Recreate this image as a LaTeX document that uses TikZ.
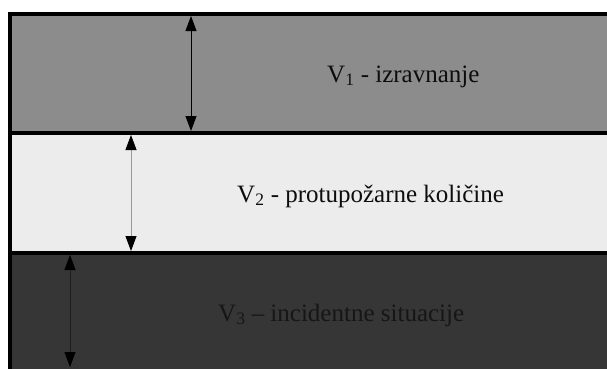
\documentclass[tikz,border=0pt]{standalone}
\usepackage{fontspec}
\setmainfont{Liberation Serif}
\usetikzlibrary{arrows.meta}
\definecolor{bandA}{HTML}{8C8C8C}
\definecolor{bandB}{HTML}{ECECEC}
\definecolor{bandC}{HTML}{363636}
\definecolor{txtC}{HTML}{161616}
\tikzset{
  band/.style={draw=black, line width=4pt},
  dim/.style={line width=0.8pt, {Triangle[length=15pt,width=11pt,color=black]}-{Triangle[length=15pt,width=11pt,color=black]}},
  lbl/.style={anchor=base west, inner sep=0pt, font=\fontsize{25}{28}\selectfont}
}
\begin{document}
\begin{tikzpicture}[x=1pt,y=-1pt]
\useasboundingbox (0,0) rectangle (607,368);
\clip (0,0) rectangle (607,368);
\fill[white] (0,0) rectangle (607,368);
% bands
\draw[band, fill=bandC] (10,253) rectangle (640,420);
\draw[band, fill=bandB] (10,133) rectangle (640,253);
\draw[band, fill=bandA] (10,14) rectangle (640,133);
% arrow end points
\coordinate (a1t) at (191,16);
\coordinate (a1b) at (191,131);
\coordinate (a2t) at (131,135);
\coordinate (a2b) at (131,251);
\coordinate (a3t) at (70,255);
\coordinate (a3b) at (70,367);
\draw[dim, draw=black] (a1t) -- (a1b);
\draw[dim, draw=black!40] (a2t) -- (a2b);
\draw[dim, draw=black!88] (a3t) -- (a3b);
% labels
\node[lbl, text=black!95] (t1) at (327,82) {V\textsubscript{1} - izravnanje};
\node[lbl, text=black!95] (t2) at (237,202) {V\textsubscript{2} - protupožarne količine};
\node[lbl, text=txtC] (t3) at (218,321) {V\textsubscript{3} – incidentne situacije};
\end{tikzpicture}
\end{document}
